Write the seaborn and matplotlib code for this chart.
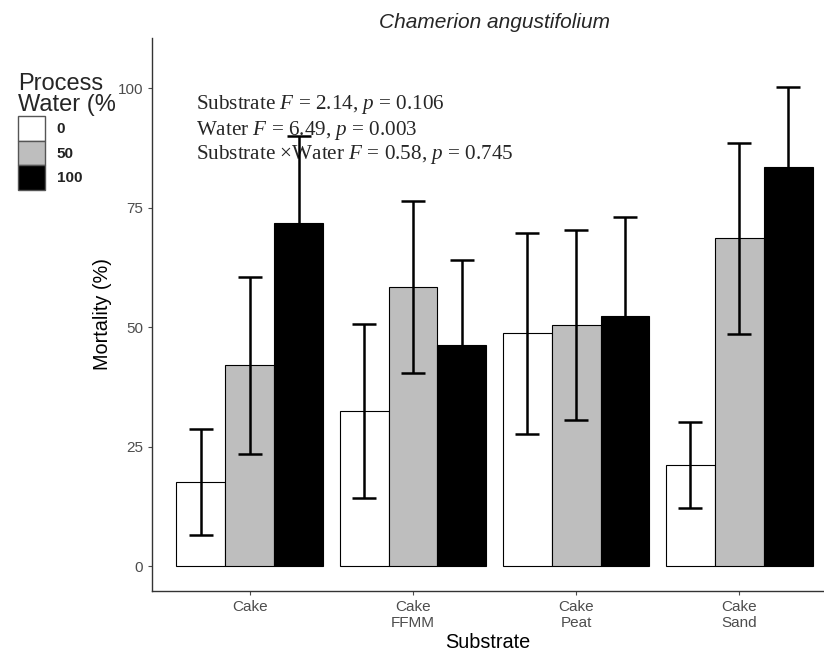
import pandas as pd
import matplotlib.pyplot as plt
import seaborn as sns
from matplotlib.patches import Patch

# values
substrates = ["Cake", "Cake\nFFMM", "Cake\nPeat", "Cake\nSand"]
water_levels = ["0", "50", "100"]
mortality = {
    "0":   [17.6, 32.4, 48.7, 21.1],
    "50":  [42.0, 58.4, 50.4, 68.6],
    "100": [71.8, 46.2, 52.3, 83.5],
}
se = {
    "0":   [11.0, 18.2, 21.0, 9.0],
    "50":  [18.5, 18.0, 19.9, 20.0],
    "100": [18.2, 17.8, 20.7, 16.7],
}
colors = ["white", "#BEBEBE", "black"]

rows = []
for w in water_levels:
    for s, m, e in zip(substrates, mortality[w], se[w]):
        rows.append({"Substrate": s, "Water": w, "Mortality": m, "SE": e})
df = pd.DataFrame(rows)

sns.set_style("white")
plt.rcParams["font.family"] = ["Liberation Sans", "DejaVu Sans"]
plt.rcParams["mathtext.fontset"] = "custom"
plt.rcParams["mathtext.it"] = "Liberation Serif:italic"
plt.rcParams["mathtext.rm"] = "Liberation Serif"

fig = plt.figure(figsize=(8.24, 6.53), dpi=100)
ax = fig.add_axes([0.1845, 0.095, 0.8155, 0.847])

sns.barplot(data=df, x="Substrate", y="Mortality", hue="Water",
            hue_order=water_levels, palette=colors, edgecolor="black",
            linewidth=0.8, width=0.9, errorbar=None, ax=ax, legend=False)

# error bars centred on each drawn bar
for w, cont in zip(water_levels, ax.containers):
    xs = [b.get_x() + b.get_width() / 2 for b in cont]
    ax.errorbar(xs, mortality[w], yerr=se[w], fmt="none", ecolor="black",
                elinewidth=1.8, capsize=8.5, capthick=1.8, zorder=5)

ax.set_xlim(-0.6, 3.52)
ax.set_ylim(-5.2, 110.5)
ax.set_yticks([0, 25, 50, 75, 100])
ax.tick_params(axis="both", colors="#4D4D4D", labelsize=11, length=3,
               direction="out", left=True, bottom=True)
for side in ["top", "right"]:
    ax.spines[side].set_visible(False)
for side in ["left", "bottom"]:
    ax.spines[side].set_color("#333333")
    ax.spines[side].set_linewidth(1.0)

ax.set_xlabel("Substrate", fontsize=14.3, color="black", labelpad=2)
ax.set_ylabel("Mortality (%)", fontsize=14.3, color="black")
ax.set_title("Chamerion angustifolium", fontsize=15, style="italic", pad=7,
             x=0.51)

stats = ["Substrate $\\mathit{F}$ = 2.14, $\\mathit{p}$ = 0.106",
         "Water $\\mathit{F}$ = 6.49, $\\mathit{p}$ = 0.003",
         "Substrate \u00d7Water $\\mathit{F}$ = 0.58, $\\mathit{p}$ = 0.745"]
for i, line in enumerate(stats):
    ax.text(196, 653 - 105 - 25 * i, line, transform=None, fontsize=15.2,
            family="Liberation Serif", va="center", ha="left")

handles = [Patch(facecolor=c, edgecolor="#555555", linewidth=1.0) for c in colors]
leg = fig.legend(handles, water_levels, title="Process\nWater (%",
                 loc="upper left", bbox_to_anchor=(0.013, 0.9),
                 frameon=False, fontsize=11,
                 title_fontsize=17,
                 handlelength=1.75, handleheight=2.1, labelspacing=0.0,
                 handletextpad=0.75, borderpad=0)
leg._legend_box.align = "left"
leg.get_title().set_linespacing(0.95)
for t in leg.get_texts():
    t.set_color("#222222")
    t.set_fontweight("bold")

fig.savefig("out.png", dpi=100)
